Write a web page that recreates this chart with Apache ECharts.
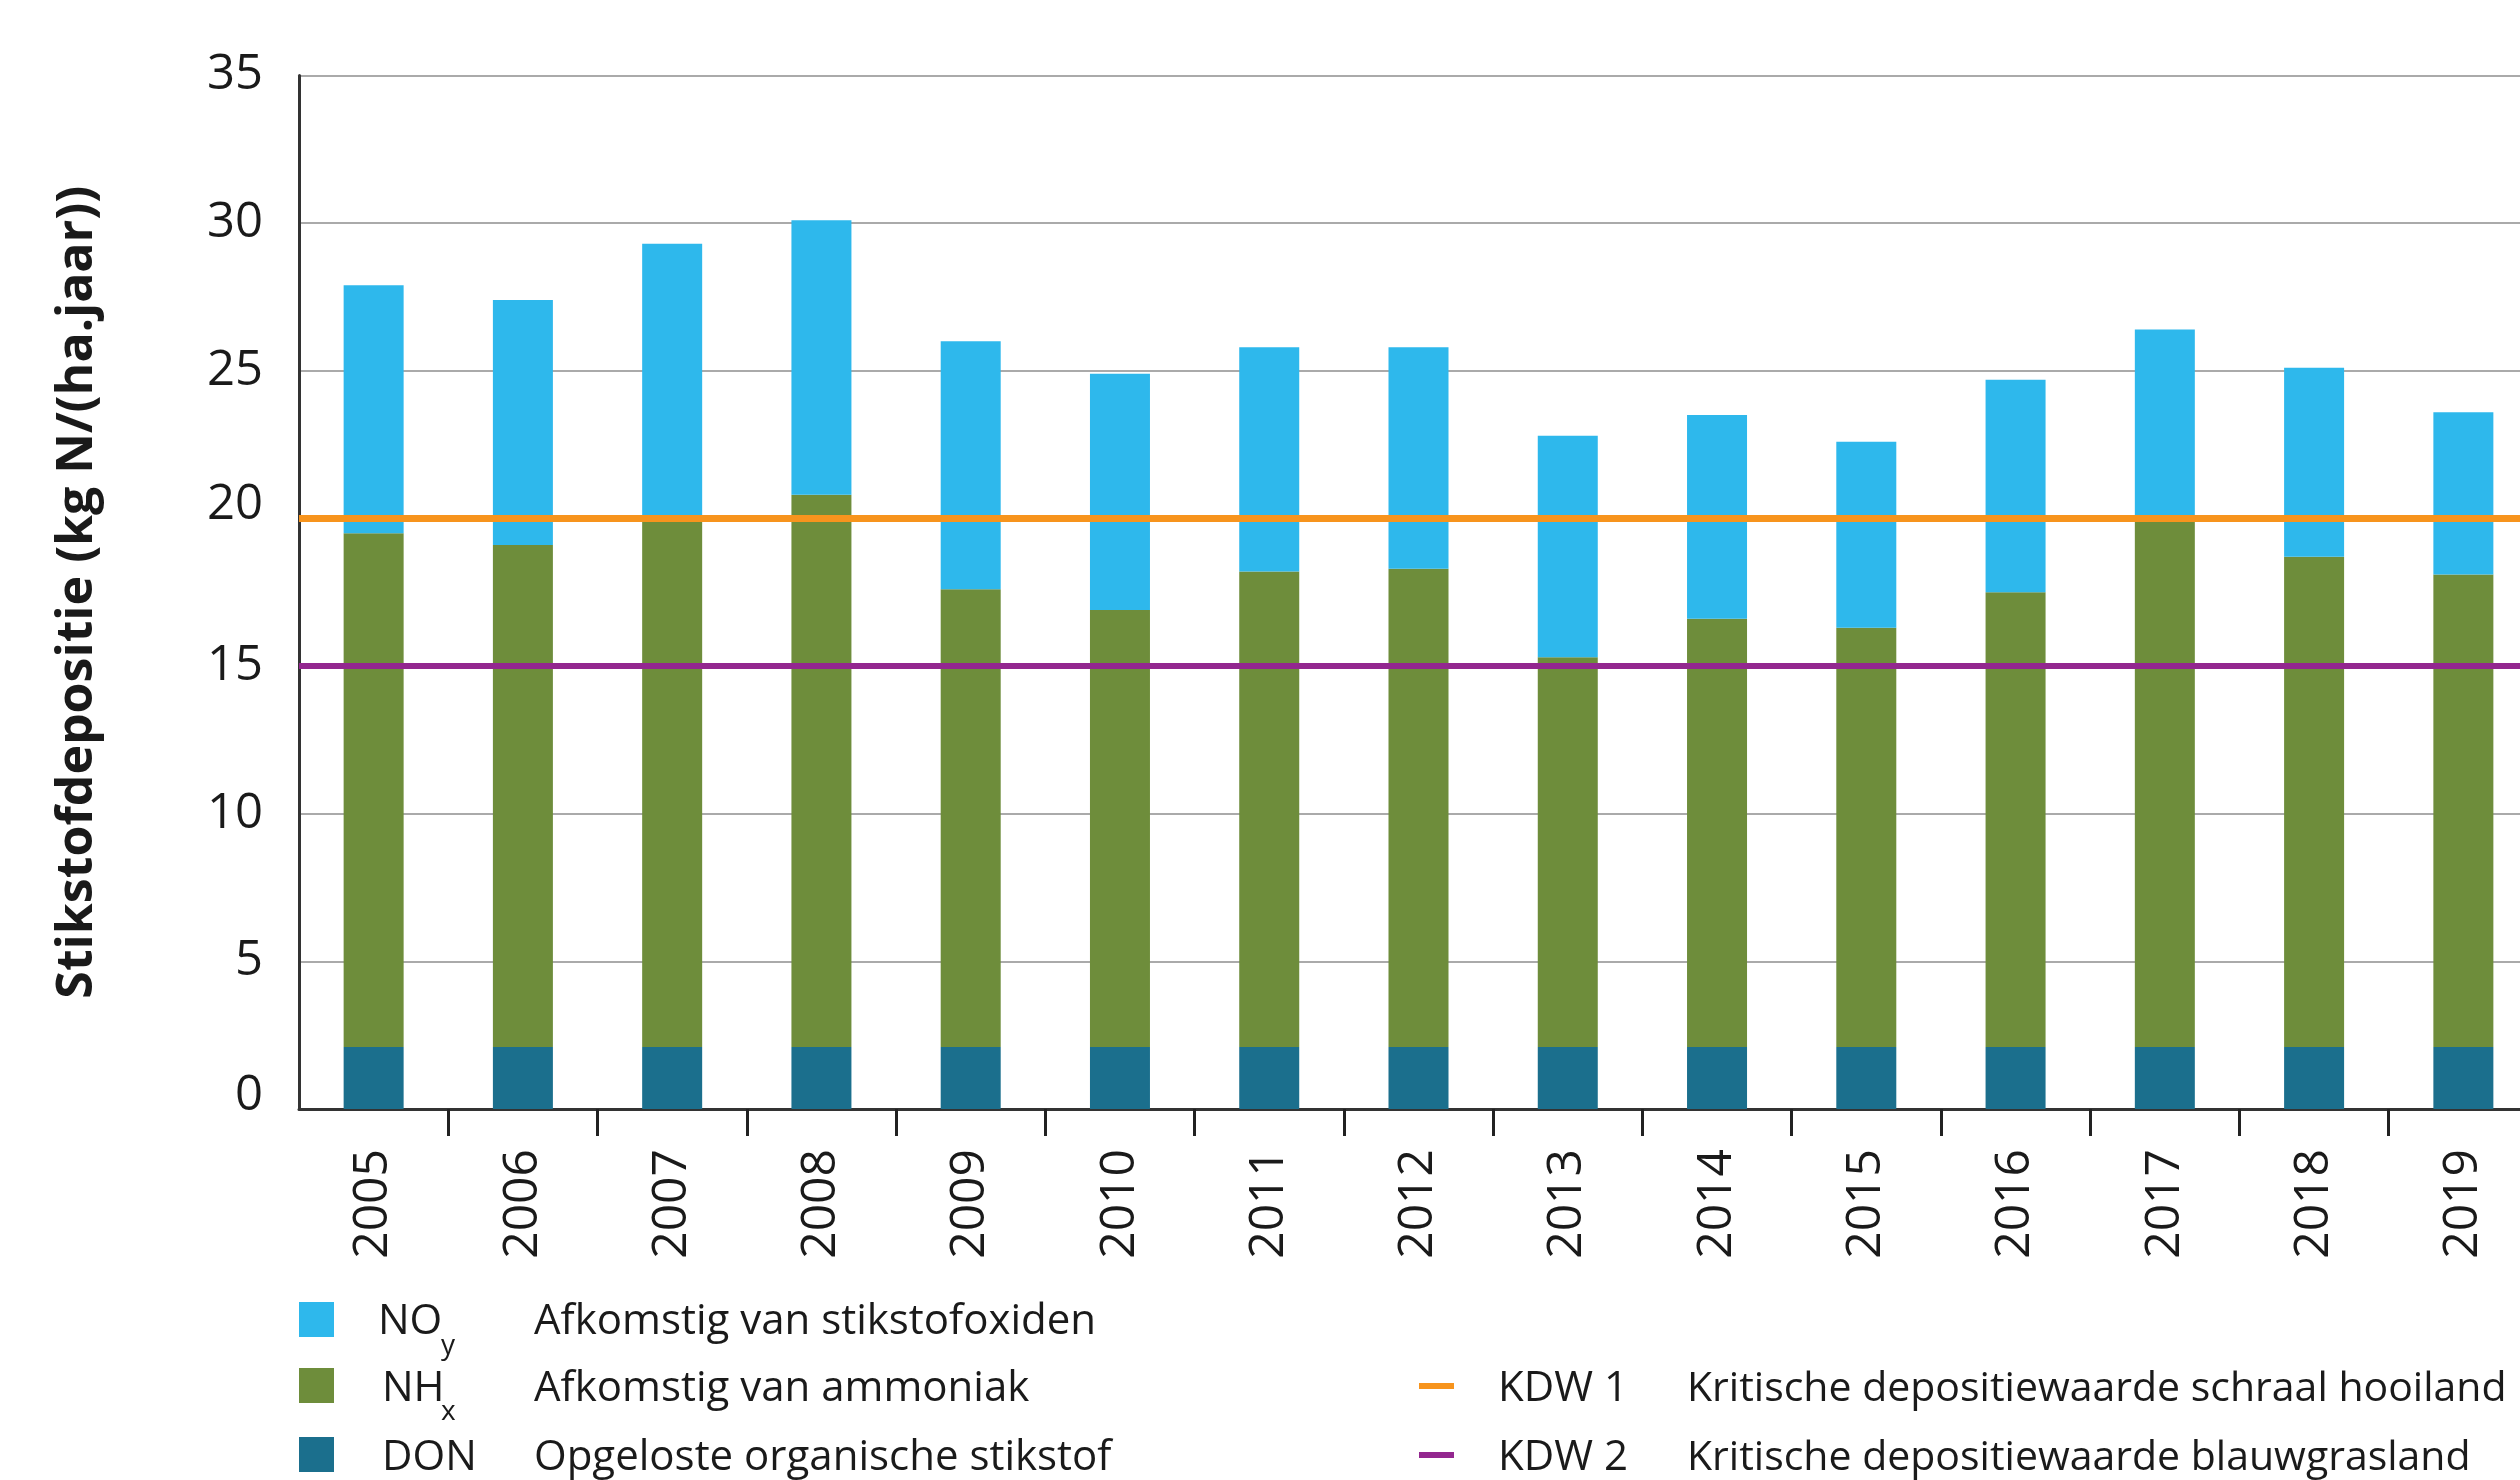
<!DOCTYPE html>
<html>
<head>
<meta charset="utf-8">
<script src="https://cdn.jsdelivr.net/npm/echarts@6/dist/echarts.min.js"></script>
<style>
html,body{margin:0;padding:0;background:#fff;overflow:hidden;}
#chart{width:2560px;height:1480px;}
</style>
</head>
<body>
<div id="chart"></div>
<script>
var years = ['2005','2006','2007','2008','2009','2010','2011','2012','2013','2014','2015','2016','2017','2018','2019'];
var donValues = [2.1,2.1,2.1,2.1,2.1,2.1,2.1,2.1,2.1,2.1,2.1,2.1,2.1,2.1,2.1];
var nhxValues = [17.4,17.0,17.8,18.7,15.5,14.8,16.1,16.2,13.2,14.5,14.2,15.4,17.8,16.6,16.0];
var noyValues = [8.4,8.3,9.4,9.3,8.4,8.0,7.6,7.5,7.5,6.9,6.3,7.2,6.5,6.4,5.5];
var kdw1 = 20;
var kdw2 = 15;
var yTicks = [0,5,10,15,20,25,30,35];
var raisedTickLabels = [0,20];

var C_NOY = '#2EB8EC', C_NHX = '#6E8D3B', C_DON = '#1B6F8D', C_KDW1 = '#F7941D', C_KDW2 = '#93278F';
var TXT = '#1a1a1a';
var FF = '"Open Sans", "Noto Sans", sans-serif';

var chart = echarts.init(document.getElementById('chart'), null, {renderer:'canvas'});

var g = [];
function txt(x, y, str, size) {
  g.push({type:'text', x:x, y:y, style:{text:str, fill:TXT, fontFamily:FF, fontSize:size, verticalAlign:'middle', align:'left'}, silent:true});
}
// legend rows
g.push({type:'rect', shape:{x:299, y:1302, width:35, height:35}, style:{fill:C_NOY}, silent:true});
g.push({type:'rect', shape:{x:299, y:1368, width:35, height:35}, style:{fill:C_NHX}, silent:true});
g.push({type:'rect', shape:{x:299, y:1437, width:35, height:35}, style:{fill:C_DON}, silent:true});
txt(378, 1322, 'NO', 42); txt(441, 1346, 'y', 28); txt(534, 1322, 'Afkomstig van stikstofoxiden', 42);
txt(382, 1389, 'NH', 42); txt(441, 1412, 'x', 28); txt(534, 1389, 'Afkomstig van ammoniak', 42);
txt(382, 1458, 'DON', 42); txt(534, 1458, 'Opgeloste organische stikstof', 42);
g.push({type:'rect', shape:{x:1419, y:1383, width:35, height:6}, style:{fill:C_KDW1}, silent:true});
g.push({type:'rect', shape:{x:1419, y:1452, width:35, height:6}, style:{fill:C_KDW2}, silent:true});
txt(1498, 1389, 'KDW 1', 42); txt(1687, 1389, 'Kritische depositiewaarde schraal hooiland', 41);
txt(1498, 1458, 'KDW 2', 42); txt(1687, 1458, 'Kritische depositiewaarde blauwgrasland', 41);

var option = {
  animation:false,
  backgroundColor:'#fff',
  textStyle:{fontFamily:FF, color:TXT},
  grid:{left:299, top:75.5, width:2239, height:1033.5, containLabel:false},
  xAxis:{
    type:'category', data:years, boundaryGap:true,
    axisLine:{show:true, lineStyle:{color:'#333', width:3}},
    axisTick:{show:true, length:27, interval:function(i){return i>0;}, lineStyle:{color:'#222', width:3}},
    axisLabel:{rotate:90, fontSize:48, color:TXT, margin:40, fontFamily:FF, interval:0},
    splitLine:{show:false}
  },
  yAxis:{
    type:'value', min:yTicks[0], max:yTicks[yTicks.length-1], interval:5,
    name:'Stikstofdepositie (kg N/(ha.jaar))', nameLocation:'middle', nameRotate:90, nameGap:196,
    nameTextStyle:{fontSize:50, fontWeight:'bold', color:TXT, fontFamily:FF},
    axisLine:{show:true, lineStyle:{color:'#333', width:3}},
    axisTick:{show:false},
    axisLabel:{fontSize:49, color:TXT, margin:36, fontFamily:FF,
      formatter:function(v){ return raisedTickLabels.indexOf(v) >= 0 ? '{up|' + v + '}' : String(v); },
      rich:{up:{fontSize:49, color:TXT, fontFamily:FF, padding:[0,0,26,0]}}
    },
    splitLine:{show:true, lineStyle:{color:'#aaaaaa', width:2}}
  },
  series:[
    {name:'DON', type:'bar', stack:'n', barWidth:60, data:donValues, itemStyle:{color:C_DON}},
    {name:'NHx', type:'bar', stack:'n', barWidth:60, data:nhxValues, itemStyle:{color:C_NHX}},
    {name:'NOy', type:'bar', stack:'n', barWidth:60, data:noyValues, itemStyle:{color:C_NOY},
      markLine:{silent:true, symbol:['none','none'], label:{show:false},
        data:[
          {yAxis:kdw1, lineStyle:{color:C_KDW1, width:7, type:'solid'}},
          {yAxis:kdw2, lineStyle:{color:C_KDW2, width:6, type:'solid'}}
        ]}
    }
  ],
  graphic:g
};
chart.setOption(option);
</script>
</body>
</html>
